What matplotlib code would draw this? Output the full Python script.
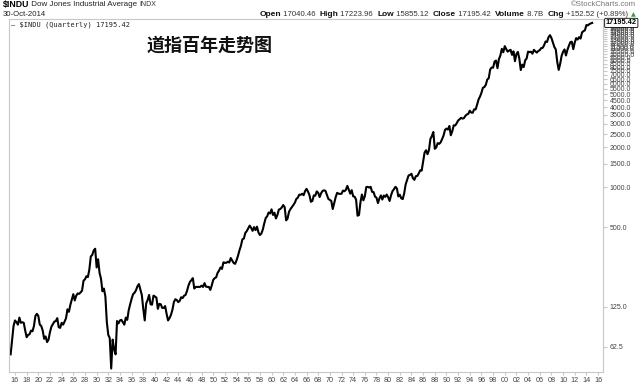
import matplotlib
matplotlib.use("Agg")
import matplotlib.pyplot as plt
import numpy as np

# ---- data: DJIA quarterly closes (approx) ----
start_year = 1915
closes = [
    55, 70, 90, 99,          # 1915
    96, 92, 104, 95,         # 1916
    96, 95, 83, 74,          # 1917
    77, 78, 83, 82,          # 1918
    90, 107, 111, 107,       # 1919
    92, 90, 83, 72,          # 1920
    75, 68, 71, 81,          # 1921
    89, 93, 97, 98,          # 1922
    103, 88, 87, 95,         # 1923
    92, 97, 103, 120,        # 1924
    115, 130, 142, 156,      # 1925
    140, 152, 158, 157,      # 1926
    161, 166, 197, 202,      # 1927
    213, 210, 239, 300,      # 1928
    308, 333, 343, 248,      # 1929
    286, 226, 204, 164,      # 1930
    172, 150, 96, 77,        # 1931
    73, 43, 71, 60,          # 1932
    55, 98, 94, 99,          # 1933
    100, 96, 92, 104,        # 1934
    100, 118, 131, 144,      # 1935
    156, 160, 167, 179,      # 1936
    186, 169, 154, 121,      # 1937
    99, 133, 141, 154,       # 1938
    131, 130, 152, 150,      # 1939
    147, 121, 132, 131,      # 1940
    123, 123, 127, 111,      # 1941
    99, 103, 109, 119,       # 1942
    136, 143, 141, 136,      # 1943
    139, 148, 146, 152,      # 1944
    154, 165, 181, 193,      # 1945
    199, 206, 172, 177,      # 1946
    177, 177, 177, 181,      # 1947
    177, 189, 178, 177,      # 1948
    177, 168, 182, 200,      # 1949
    206, 209, 226, 235,      # 1950
    248, 242, 271, 269,      # 1951
    269, 274, 270, 292,      # 1952
    280, 268, 264, 281,      # 1953
    304, 334, 361, 404,      # 1954
    409, 451, 466, 488,      # 1955
    512, 493, 468, 499,      # 1956
    474, 503, 456, 435,      # 1957
    446, 478, 532, 584,      # 1958
    602, 643, 632, 679,      # 1959
    616, 641, 580, 615,      # 1960
    676, 683, 701, 731,      # 1961
    706, 561, 579, 652,      # 1962
    682, 706, 733, 763,      # 1963
    813, 831, 875, 874,      # 1964
    889, 868, 931, 969,      # 1965
    924, 870, 774, 786,      # 1966
    865, 860, 927, 905,      # 1967
    840, 898, 935, 944,      # 1968
    935, 873, 813, 800,      # 1969
    785, 683, 760, 839,      # 1970
    904, 891, 887, 890,      # 1971
    940, 929, 953, 1020,     # 1972
    951, 891, 947, 851,      # 1973
    846, 802, 608, 616,      # 1974
    768, 878, 794, 852,      # 1975
    999, 1003, 990, 1004,    # 1976
    919, 916, 847, 831,      # 1977
    757, 819, 865, 805,      # 1978
    862, 842, 878, 838,      # 1979
    785, 867, 932, 963,      # 1980
    1003, 976, 849, 875,     # 1981
    822, 811, 896, 1046,     # 1982
    1130, 1221, 1233, 1258,  # 1983
    1165, 1132, 1206, 1211,  # 1984
    1266, 1335, 1328, 1546,  # 1985
    1818, 1892, 1767, 1895,  # 1986
    2304, 2418, 2596, 1938,  # 1987
    1988, 2141, 2112, 2168,  # 1988
    2293, 2440, 2692, 2753,  # 1989
    2707, 2880, 2452, 2633,  # 1990
    2913, 2906, 3016, 3168,  # 1991
    3235, 3318, 3271, 3301,  # 1992
    3435, 3516, 3555, 3754,  # 1993
    3635, 3624, 3843, 3834,  # 1994
    4157, 4556, 4789, 5117,  # 1995
    5587, 5654, 5882, 6448,  # 1996
    6583, 7672, 7945, 7908,  # 1997
    8799, 8952, 7843, 9181,  # 1998
    9786, 10970, 10337, 11497,  # 1999
    10922, 10448, 10651, 10787,  # 2000
    9879, 10502, 8848, 10022,    # 2001
    10404, 9243, 7592, 8342,     # 2002
    7992, 8985, 9275, 10454,     # 2003
    10358, 10435, 10080, 10783,  # 2004
    10504, 10275, 10569, 10718,  # 2005
    11109, 11150, 11679, 12463,  # 2006
    12354, 13409, 13896, 13265,  # 2007
    12263, 11350, 10851, 8776,   # 2008
    7609, 8447, 9712, 10428,     # 2009
    10857, 9774, 10788, 11578,   # 2010
    12320, 12414, 10913, 12218,  # 2011
    13212, 12880, 13437, 13104,  # 2012
    14579, 14910, 15130, 16577,  # 2013
    16458, 16827, 17043, 17195.42,  # 2014
]
quarter_index = np.arange(len(closes))
x_years = start_year + (quarter_index + 1) * 0.25   # quarter-end positions

ytick_vals = [62.5, 125.0, 500.0] + list(np.arange(1000, 17001, 500))
xtick_years = list(range(1916, 2017, 2))
xtick_labels = ["%02d" % (y % 100) for y in xtick_years]
last_value = "17195.42"

title_cn = "道指百年走势图"

# ---- figure ----
W, H = 640, 384
fig = plt.figure(figsize=(W / 100, H / 100), dpi=100)
fig.patch.set_facecolor("white")

left, right, top, bottom = 9, 603, 19, 372
ax = fig.add_axes([left / W, 1 - bottom / H, (right - left) / W, (bottom - top) / H])
ax.plot(x_years, closes, color="black", lw=1.5, solid_joinstyle="round")
ax.set_yscale("log")
ax.set_ylim(40.5, 18400)
ax.set_xlim(1914.97, 2016.85)

for s in ax.spines.values():
    s.set_color("#c8c8c8")
    s.set_linewidth(0.8)

ax.yaxis.tick_right()
ax.set_yticks(ytick_vals)
ax.set_yticklabels(["%.1f" % v for v in ytick_vals])
ax.yaxis.set_minor_locator(matplotlib.ticker.NullLocator())
ax.tick_params(axis="y", which="major", length=3, color="#c8c8c8", labelsize=5.0,
               labelcolor="#444444", pad=2)
for lbl in ax.get_yticklabels():
    lbl.set_family("Liberation Sans")
ax.set_xticks(xtick_years)
ax.set_xticklabels(xtick_labels)
ax.tick_params(axis="x", length=2, color="#c8c8c8", labelsize=5.2, labelcolor="#444444", pad=1.5)
for lbl in ax.get_xticklabels():
    lbl.set_family("Liberation Sans")

# last value box
ax.annotate(last_value, xy=(1, closes[-1]), xycoords=("axes fraction", "data"),
            xytext=(2, 0), textcoords="offset points", va="center", ha="left",
            fontsize=5.3, fontweight="bold", color="black", family="Liberation Sans",
            bbox=dict(boxstyle="round,pad=0.15", fc="white", ec="black", lw=0.6),
            annotation_clip=False)

# Chinese title
fig.text(210 / W, 1 - 45 / H, title_cn, ha="center", va="center", fontsize=13,
         fontweight="bold", family=["Noto Sans CJK SC", "DejaVu Sans"], color="#111111")

# legend
fig.text(11 / W, 1 - 25 / H, "\u2014 $INDU (Quarterly) 17195.42", ha="left", va="center",
         fontsize=5.0, family="DejaVu Sans Mono", color="#222222")

# header
fig.canvas.draw()
renderer = fig.canvas.get_renderer()


def seq(x0, y0, parts, align="left"):
    widths = []
    objs = []
    for t, kw in parts:
        o = fig.text(0, 0, t, va="center", ha="left", family="Liberation Sans", **kw)
        objs.append(o)
        widths.append(o.get_window_extent(renderer).width)
    total = sum(widths)
    x = x0 if align == "left" else x0 - total
    for o, w in zip(objs, widths):
        o.set_position((x / W, 1 - y0 / H))
        x += w


seq(3, 5, [("$INDU", dict(fontsize=6.3, fontweight="bold", color="black")),
           (" Dow Jones Industrial Average ", dict(fontsize=5.8, color="#222222")),
           ("INDX", dict(fontsize=5.0, color="#333333"))])
fig.text(3 / W, 1 - 15 / H, "30-Oct-2014", ha="left", va="center", fontsize=5.6,
         family="Liberation Sans", color="#222222")
fig.text(636 / W, 1 - 5 / H, "\u00a9StockCharts.com", ha="right", va="center", fontsize=5.6,
         family="Liberation Sans", color="#777777")
b = dict(fontsize=6.0, fontweight="bold", color="#111111")
n = dict(fontsize=5.6, color="#333333")
seq(630, 15, [("Open", b), (" 17040.46  ", n), ("High", b), (" 17223.96  ", n),
              ("Low", b), (" 15855.12  ", n), ("Close", b), (" 17195.42  ", n),
              ("Volume", b), (" 8.7B  ", n), ("Chg", b), (" +152.52 (+0.89%) ", n)],
    align="right")
fig.text(631 / W, 1 - 15 / H, "\u25b2", ha="left", va="center", fontsize=4.5,
         color="#2e9e3a", family="DejaVu Sans")

fig.savefig("out.png", dpi=100, facecolor="white")
